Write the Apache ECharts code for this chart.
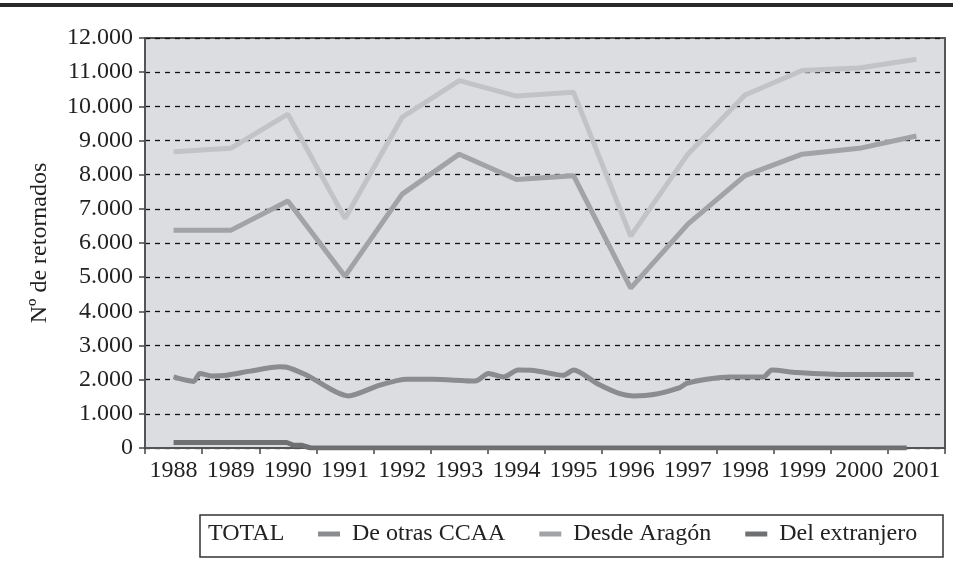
<!DOCTYPE html>
<html><head><meta charset="utf-8">
<script src="https://cdn.jsdelivr.net/npm/echarts@6/dist/echarts.min.js"></script>
<style>html,body{margin:0;padding:0;background:#fff}#c{width:953px;height:579px}</style>
</head><body><div id="c"></div>
<script>
var years = ['1988','1989','1990','1991','1992','1993','1994','1995','1996','1997','1998','1999','2000','2001'];
var total = [8670, 8770, 9770, 6720, 9680, 10750, 10300, 10410, 6200, 8600, 10330, 11050, 11120, 11380];
var desdeAragon = [6370, 6370, 7230, 5030, 7430, 8600, 7860, 7970, 4680, 6550, 7970, 8600, 8770, 9130];
// position along the year axis (0 = start of 1988 slot) and value
var otrasPos = [0.5,0.85,0.96,1.17,1.43,1.84,2.36,2.48,2.83,3.56,4.11,4.58,5.04,5.78,6.01,6.27,6.53,6.8,7.32,7.5,7.91,8.31,8.55,8.9,9.36,9.48,9.83,10.24,10.82,10.97,11.41,12.28,13.45];
var otrasVal = [2080,1950,2180,2110,2130,2250,2375,2365,2130,1525,1840,2010,2010,1960,2180,2080,2280,2270,2130,2280,1890,1590,1525,1565,1770,1890,2010,2080,2080,2280,2210,2150,2150];
var extPos = [0.5,2.48,2.6,2.75,2.9,13.33];
var extVal = [160,160,80,80,0,0];

function pairs(p, v){ return p.map(function(x,i){ return [x, v[i]]; }); }
function centered(v){ return v.map(function(y,i){ return [i+0.5, y]; }); }

var serif = '"Liberation Serif","DejaVu Serif",serif';
var legendText = {fontFamily:serif, fontSize:24, color:'#222', padding:[0,0,0,7]};
var chart = echarts.init(document.getElementById('c'), null, {renderer:'canvas'});
chart.setOption({
  animation:false,
  graphic:[
    {type:'rect', shape:{x:0,y:3,width:953,height:4}, style:{fill:'#2a2a2a'}},
    {type:'rect', shape:{x:200,y:515,width:743,height:42}, style:{fill:'none', stroke:'#333', lineWidth:1.5}}
  ],
  grid:{left:145, right:8, top:38, bottom:131, show:true, backgroundColor:'#dcdde0', borderColor:'#555', borderWidth:2},
  legend:[
    {data:['TOTAL'], left:196, top:522, padding:0, itemWidth:0, itemHeight:5, icon:'rect',
     textStyle:{fontFamily:serif, fontSize:24, color:'#222', padding:[0,0,0,7]}},
    {data:['De otras CCAA','Desde Aragón','Del extranjero'], left:318, top:522, padding:0,
     itemGap:34, itemWidth:22, itemHeight:5, icon:'rect', textStyle:legendText}
  ],
  xAxis:[
    {type:'category', data:years, boundaryGap:true,
     axisLine:{lineStyle:{color:'#555', width:2}},
     axisTick:{show:true, length:6, interval:0, lineStyle:{color:'#444', width:1.5}},
     axisLabel:{fontFamily:serif, fontSize:24, color:'#222', margin:11, interval:0},
     splitLine:{show:false}},
    {type:'value', min:0, max:14, show:false}
  ],
  yAxis:{type:'value', min:0, max:12000, interval:1000,
    name:'Nº de retornados', nameLocation:'middle', nameGap:93, nameRotate:90,
    nameTextStyle:{fontFamily:serif, fontSize:24, color:'#222'},
    axisLine:{show:true, lineStyle:{color:'#555', width:2}},
    axisTick:{show:true, length:6, lineStyle:{color:'#444', width:1.5}},
    axisLabel:{fontFamily:serif, fontSize:24, color:'#222', margin:12,
      formatter:function(v){ return v.toString().replace(/\B(?=(\d{3})+(?!\d))/g,'.'); }},
    splitLine:{show:true, lineStyle:{color:'#111', width:1.3, type:[5,5]}}
  },
  series:[
    {name:'TOTAL', type:'line', xAxisIndex:1, data:centered(total), showSymbol:false,
     lineStyle:{color:'#c2c3c6', width:5}, itemStyle:{color:'#c2c3c6'}},
    {name:'De otras CCAA', type:'line', xAxisIndex:1, data:pairs(otrasPos, otrasVal), showSymbol:false, smooth:0.25,
     lineStyle:{color:'#8b8c8f', width:5}, itemStyle:{color:'#8b8c8f'}},
    {name:'Desde Aragón', type:'line', xAxisIndex:1, data:centered(desdeAragon), showSymbol:false,
     lineStyle:{color:'#a2a3a6', width:5}, itemStyle:{color:'#a2a3a6'}},
    {name:'Del extranjero', type:'line', xAxisIndex:1, data:pairs(extPos, extVal), showSymbol:false,
     lineStyle:{color:'#6f7072', width:5}, itemStyle:{color:'#6f7072'}}
  ]
});
</script></body></html>
